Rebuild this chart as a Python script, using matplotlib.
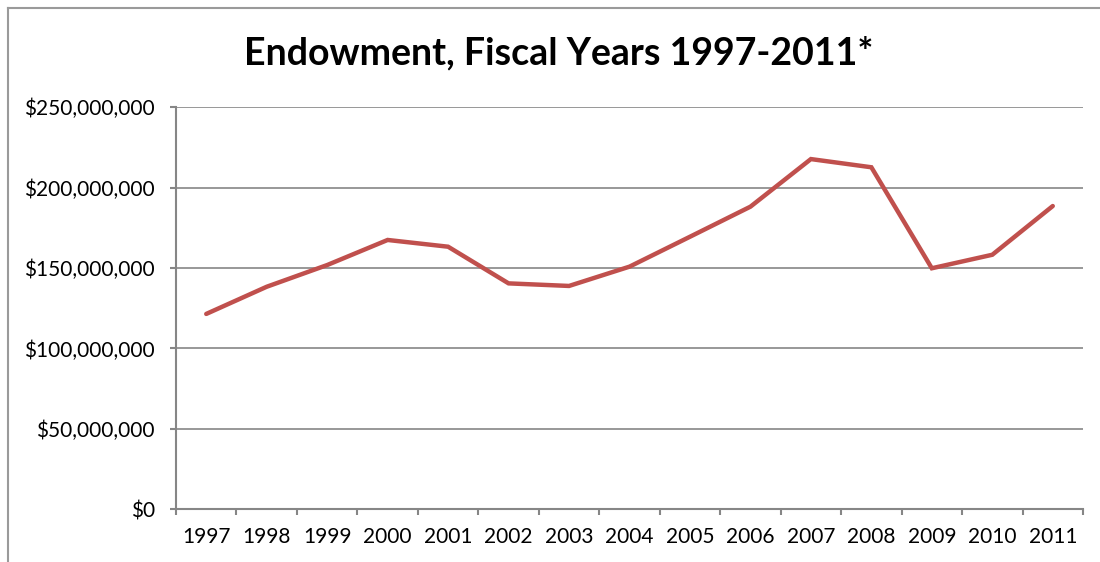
import matplotlib
matplotlib.use("Agg")
import matplotlib.pyplot as plt
from matplotlib.ticker import FuncFormatter, FixedLocator
from matplotlib.lines import Line2D

years = ["1997", "1998", "1999", "2000", "2001", "2002", "2003", "2004",
         "2005", "2006", "2007", "2008", "2009", "2010", "2011"]
endowment = [121.5e6, 138.4e6, 151.9e6, 167.5e6, 163.3e6, 140.5e6, 138.9e6,
             150.9e6, 169.5e6, 188.2e6, 217.8e6, 212.7e6, 149.9e6, 158.3e6, 188.6e6]
y_ticks = [0, 50e6, 100e6, 150e6, 200e6, 250e6]
title = "Endowment, Fiscal Years 1997-2011*"

plt.rcParams['font.family'] = ['Lato', 'DejaVu Sans']
grey = "#868686"

fig = plt.figure(figsize=(11, 5.62), dpi=100)
ax = fig.add_axes([176/1100, 1 - 509.3/562, (1083 - 176)/1100, (509.3 - 107.3)/562])

x = list(range(len(years)))
ax.plot(x, endowment, color="#C0504D", linewidth=3.2, solid_capstyle="round",
        solid_joinstyle="miter", zorder=3)

ax.set_xlim(-0.5, len(years) - 0.5)
ax.set_ylim(0, 250e6)
ax.set_yticks(y_ticks)
ax.yaxis.set_major_formatter(FuncFormatter(lambda v, p: "${:,.0f}".format(v)))
ax.set_xticks(x)
ax.set_xticklabels(years)
ax.xaxis.set_minor_locator(FixedLocator([i - 0.5 for i in range(len(years) + 1)]))
ax.tick_params(axis="x", which="major", length=0, labelsize=15, pad=13, colors="black")
ax.tick_params(axis="x", which="minor", length=4.3, width=1.5, color=grey, direction="out")
ax.tick_params(axis="y", length=4.3, width=1.5, color=grey, labelsize=15, pad=11, labelcolor="black")

ax.grid(axis="y", color=grey, linewidth=1.2)
ax.set_axisbelow(True)
for s in ["top", "right"]:
    ax.spines[s].set_visible(False)
for s in ["left", "bottom"]:
    ax.spines[s].set_color(grey)
    ax.spines[s].set_linewidth(1.5)

fig.text(559/1100, 1 - 53/562, title, ha="center", va="center",
         fontsize=27, fontweight="bold")

# chart area border (left and top visible)
fig.add_artist(Line2D([8/1100, 8/1100], [0, 1 - 8/562], transform=fig.transFigure,
                      color="#9a9a9a", linewidth=1.5))
fig.add_artist(Line2D([8/1100, 1], [1 - 8/562, 1 - 8/562], transform=fig.transFigure,
                      color="#9a9a9a", linewidth=1.5))

fig.savefig("out.png", dpi=100)
